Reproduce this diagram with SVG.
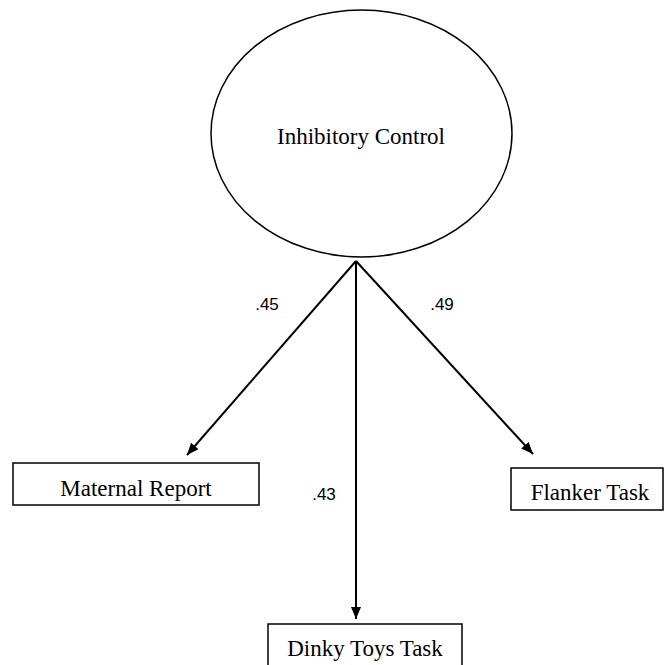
<svg xmlns="http://www.w3.org/2000/svg" width="664" height="665" viewBox="0 0 664 665">
<style>
.node{fill:#fff;stroke:#000;stroke-width:1.5}
.lbl{font-family:"Liberation Serif","Times New Roman",serif;font-size:23px;fill:#000;text-anchor:middle}
.num{font-family:"Liberation Sans",Arial,sans-serif;font-size:17px;fill:#000;text-anchor:middle}
.conn{stroke:#000;stroke-width:2;fill:none}
</style>
<defs>
<marker id="ah" viewBox="0 0 12 10" refX="12" refY="5" markerWidth="12" markerHeight="10" markerUnits="userSpaceOnUse" orient="auto">
<path d="M0,0 L12,5 L0,10 z" fill="#000"/>
</marker>
</defs>
<rect width="664" height="665" fill="#fff"/>
<g id="inhibitory-control">
<ellipse class="node" cx="361.5" cy="133.5" rx="150.5" ry="123.5"/>
<text class="lbl" x="361" y="144">Inhibitory Control</text>
</g>
<g id="maternal-report">
<rect class="node" x="13" y="463" width="246" height="42"/>
<text class="lbl" x="136" y="496">Maternal Report</text>
</g>
<g id="flanker-task">
<rect class="node" x="511" y="468" width="152" height="42"/>
<text class="lbl" x="590" y="500">Flanker Task</text>
</g>
<g id="dinky-toys-task">
<rect class="node" x="268" y="624" width="194" height="45"/>
<text class="lbl" x="365" y="656">Dinky Toys Task</text>
</g>
<g id="connectors">
<line class="conn" x1="356" y1="261" x2="187" y2="455" marker-end="url(#ah)"/>
<line class="conn" x1="356" y1="261" x2="356" y2="619" marker-end="url(#ah)"/>
<line class="conn" x1="356" y1="261" x2="533" y2="454" marker-end="url(#ah)"/>
<text class="num" x="267" y="310">.45</text>
<text class="num" x="442" y="310">.49</text>
<text class="num" x="324" y="500">.43</text>
</g>
</svg>
